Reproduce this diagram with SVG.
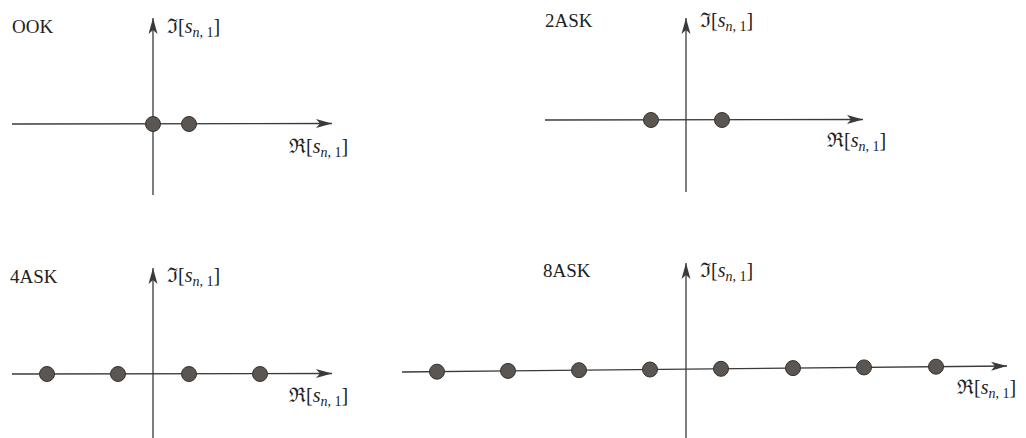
<svg xmlns="http://www.w3.org/2000/svg" width="1026" height="438" viewBox="0 0 1026 438">
<style>
.axa{stroke:#3a3a3a;stroke-width:1.3;fill:none;marker-end:url(#arr)}
.dot{fill:#5b5651;stroke:#35322f;stroke-width:1}
text{font-family:'Liberation Serif','Times New Roman','DejaVu Serif',serif;font-size:19px;fill:#222}
.m{font-size:20px}
.it{font-style:italic}
.sub{font-size:14px}
</style>
<defs>
<marker id="arr" viewBox="-17 -5 18 10" refX="0" refY="0" markerWidth="18" markerHeight="10" markerUnits="userSpaceOnUse" orient="auto">
<path d="M0,0 L-16,-4.5 L-12,0 L-16,4.5 Z" fill="#3a3a3a"/>
</marker>
</defs>
<rect width="1026" height="438" fill="#ffffff"/>
<g id="connectors">
<line class="axa" x1="12" y1="124" x2="332" y2="123.5"/>
<line class="axa" x1="153" y1="195" x2="153" y2="18"/>
<line class="axa" x1="545" y1="120" x2="863" y2="119.5"/>
<line class="axa" x1="686" y1="192" x2="686" y2="18"/>
<line class="axa" x1="12" y1="374" x2="332" y2="373.5"/>
<line class="axa" x1="153" y1="438" x2="153" y2="268"/>
<line class="axa" x1="402" y1="372" x2="1007" y2="366"/>
<line class="axa" x1="686" y1="438" x2="686" y2="263"/>
</g>
<g id="ook">
<text x="12" y="33">OOK</text>
<text class="m" x="167" y="33">ℑ[<tspan class="it">s</tspan><tspan class="sub" dy="4"><tspan class="it">n</tspan>, 1</tspan><tspan dy="-4">]</tspan></text>
<text class="m" x="289" y="153">ℜ[<tspan class="it">s</tspan><tspan class="sub" dy="4"><tspan class="it">n</tspan>, 1</tspan><tspan dy="-4">]</tspan></text>
<circle class="dot" cx="153" cy="124" r="7.5"/>
<circle class="dot" cx="189" cy="124" r="7.5"/>
</g>
<g id="ask2">
<text x="545" y="27">2ASK</text>
<text class="m" x="700" y="27">ℑ[<tspan class="it">s</tspan><tspan class="sub" dy="4"><tspan class="it">n</tspan>, 1</tspan><tspan dy="-4">]</tspan></text>
<text class="m" x="827" y="147">ℜ[<tspan class="it">s</tspan><tspan class="sub" dy="4"><tspan class="it">n</tspan>, 1</tspan><tspan dy="-4">]</tspan></text>
<circle class="dot" cx="651" cy="120" r="7.5"/>
<circle class="dot" cx="722" cy="120" r="7.5"/>
</g>
<g id="ask4">
<text x="10" y="283">4ASK</text>
<text class="m" x="167" y="282">ℑ[<tspan class="it">s</tspan><tspan class="sub" dy="4"><tspan class="it">n</tspan>, 1</tspan><tspan dy="-4">]</tspan></text>
<text class="m" x="289" y="402">ℜ[<tspan class="it">s</tspan><tspan class="sub" dy="4"><tspan class="it">n</tspan>, 1</tspan><tspan dy="-4">]</tspan></text>
<circle class="dot" cx="47" cy="374" r="7.5"/>
<circle class="dot" cx="118" cy="374" r="7.5"/>
<circle class="dot" cx="189" cy="374" r="7.5"/>
<circle class="dot" cx="260" cy="374" r="7.5"/>
</g>
<g id="ask8">
<text x="543" y="277">8ASK</text>
<text class="m" x="700" y="277">ℑ[<tspan class="it">s</tspan><tspan class="sub" dy="4"><tspan class="it">n</tspan>, 1</tspan><tspan dy="-4">]</tspan></text>
<text class="m" x="957" y="394">ℜ[<tspan class="it">s</tspan><tspan class="sub" dy="4"><tspan class="it">n</tspan>, 1</tspan><tspan dy="-4">]</tspan></text>
<circle class="dot" cx="437" cy="371.7" r="7.5"/>
<circle class="dot" cx="508" cy="370.9" r="7.5"/>
<circle class="dot" cx="579" cy="370.2" r="7.5"/>
<circle class="dot" cx="650" cy="369.5" r="7.5"/>
<circle class="dot" cx="721" cy="368.8" r="7.5"/>
<circle class="dot" cx="793" cy="368.1" r="7.5"/>
<circle class="dot" cx="864" cy="367.4" r="7.5"/>
<circle class="dot" cx="936" cy="366.7" r="7.5"/>
</g>
</svg>
